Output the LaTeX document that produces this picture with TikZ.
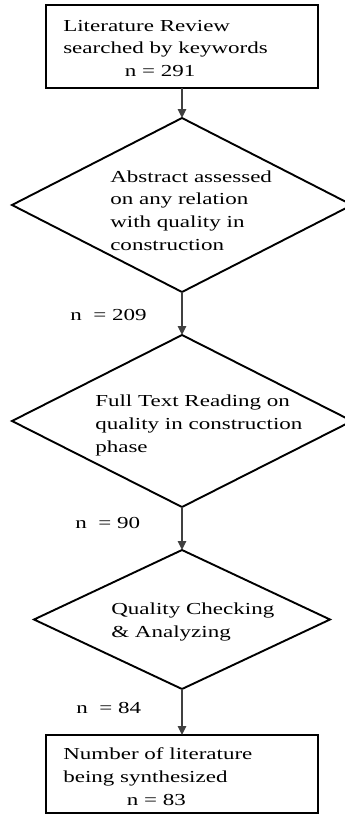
\documentclass[tikz,border=0pt]{standalone}
\usepackage{fontspec}
\setmainfont{Liberation Serif}
\usetikzlibrary{shapes.geometric,arrows.meta}
\tikzset{
    box/.style={draw=black,line width=2pt,inner sep=0pt,outer sep=0pt},
    decision/.style={diamond,draw=black,line width=1.9pt,inner sep=0pt,outer sep=0pt},
    txt/.style={anchor=base west,inner sep=0pt,align=left,xscale=1.37,
      font=\fontsize{16.8}{22.6}\selectfont},
    flow/.style={draw=black!75,line width=1.3pt,-{Triangle[length=9pt,width=8.5pt]}},
  }

\begin{document}
\begin{tikzpicture}[x=1pt,y=-1pt]
      \useasboundingbox (0,0) rectangle (345,816);

      % boxes and decisions
      \node[box,minimum width=272pt,minimum height=83pt] (review) at (182,46.5) {};
      \node[decision,minimum width=340pt,minimum height=174pt] (abstract) at (182,205) {};
      \node[decision,minimum width=340pt,minimum height=172pt] (fulltext) at (182,421) {};
      \node[decision,minimum width=296pt,minimum height=139pt] (checking) at (182,619.5) {};
      \node[box,minimum width=272pt,minimum height=78pt] (synth) at (182,774) {};

      % texts inside (anchored at the last line)
      \node[txt] (reviewtxt) at (63,76.5) {Literature Review\\searched by keywords\\\hspace*{45pt}n = 291};
      \node[txt] (abstracttxt) at (110,250) {Abstract assessed\\on any relation\\with quality in\\construction};
      \node[txt] (fulltexttxt) at (95,452) {Full Text Reading on\\quality in construction\\phase};
      \node[txt] (checkingtxt) at (111,637.5) {Quality Checking\\\& Analyzing};
      \node[txt] (synthtxt) at (63,805) {Number of literature\\being synthesized\\\hspace*{46.5pt}n = 83};

      % counts
      \node[txt] (n209) at (70,320) {n \ = 209};
      \node[txt] (n90) at (75,528) {n \ = 90};
      \node[txt] (n84) at (76,713) {n \ = 84};

      % arrows
      \draw[flow] (review.south) -- (abstract.north);
      \draw[flow] (abstract.south) -- (fulltext.north);
      \draw[flow] (fulltext.south) -- (checking.north);
      \draw[flow] (checking.south) -- (synth.north);
    \end{tikzpicture}
\end{document}
